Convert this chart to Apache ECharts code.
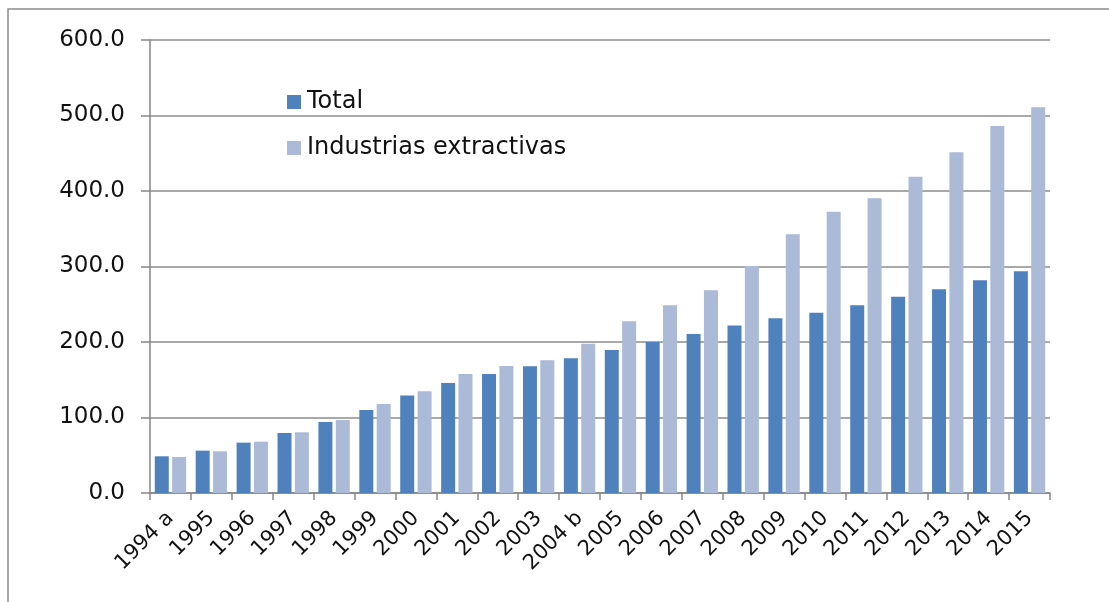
<!DOCTYPE html>
<html>
<head>
<meta charset="utf-8">
<script src="https://cdn.jsdelivr.net/npm/echarts@6/dist/echarts.min.js"></script>
<style>
html,body{margin:0;padding:0;background:#fff;}
#c{width:1109px;height:602px;}
</style>
</head>
<body>
<div id="c"></div>
<script>
const categories = ['1994 a','1995','1996','1997','1998','1999','2000','2001','2002','2003','2004 b','2005','2006','2007','2008','2009','2010','2011','2012','2013','2014','2015'];
const totalValues = [48.6,56.1,66.7,79.5,94.0,110.0,129.0,145.7,157.6,167.8,178.4,189.5,200.0,210.6,222.0,231.3,238.9,248.6,260.0,269.8,281.7,293.6];
const extractivasValues = [47.7,55.2,68.0,80.4,96.7,118.0,134.7,157.6,168.2,175.7,197.8,227.4,248.6,268.4,300.7,342.6,372.6,390.3,419.0,451.2,486.0,510.8];
const yTicks = [0,100,200,300,400,500,600];

const FONT = 'DejaVu Sans';
const chart = echarts.init(document.getElementById('c'));
chart.setOption({
  animation: false,
  backgroundColor: '#ffffff',
  textStyle: {fontFamily: FONT},
  graphic: [{
    type: 'rect',
    shape: {x: 8, y: 9, width: 1300, height: 800},
    style: {fill: 'none', stroke: '#8c8c8c', lineWidth: 1.5},
    silent: true
  }],
  legend: {
    orient: 'vertical',
    left: 287,
    top: 90,
    padding: 0,
    itemWidth: 14,
    itemHeight: 14,
    itemGap: 22,
    icon: 'rect',
    textStyle: {fontFamily: FONT, fontSize: 24, color: '#111', padding: [0,0,0,1]},
    data: ['Total','Industrias extractivas']
  },
  grid: {left: 150, right: 59, top: 40, bottom: 109, containLabel: false},
  xAxis: {
    type: 'category',
    data: categories,
    axisLine: {lineStyle: {color: '#868686', width: 1.5}},
    axisTick: {show: true, length: 7, alignWithLabel: false, lineStyle: {color: '#868686', width: 1.5}},
    axisLabel: {rotate: 45, interval: 0, fontFamily: FONT, fontSize: 21, color: '#111', margin: 22}
  },
  yAxis: {
    type: 'value',
    min: yTicks[0],
    max: yTicks[yTicks.length-1],
    interval: 100,
    axisLine: {show: true, lineStyle: {color: '#868686', width: 1.5}},
    axisTick: {show: true, length: 9, lineStyle: {color: '#868686', width: 1.5}},
    axisLabel: {fontFamily: FONT, fontSize: 23, color: '#111', margin: 25, formatter: v => v.toFixed(1)},
    splitLine: {lineStyle: {color: '#8c8c8c', width: 1.5}}
  },
  series: [
    {name: 'Total', type: 'bar', data: totalValues, barWidth: 14, barGap: '24%',
     itemStyle: {color: '#4F81BD'}},
    {name: 'Industrias extractivas', type: 'bar', data: extractivasValues, barWidth: 14,
     itemStyle: {color: '#AABAD7'}}
  ]
});
</script>
</body>
</html>
